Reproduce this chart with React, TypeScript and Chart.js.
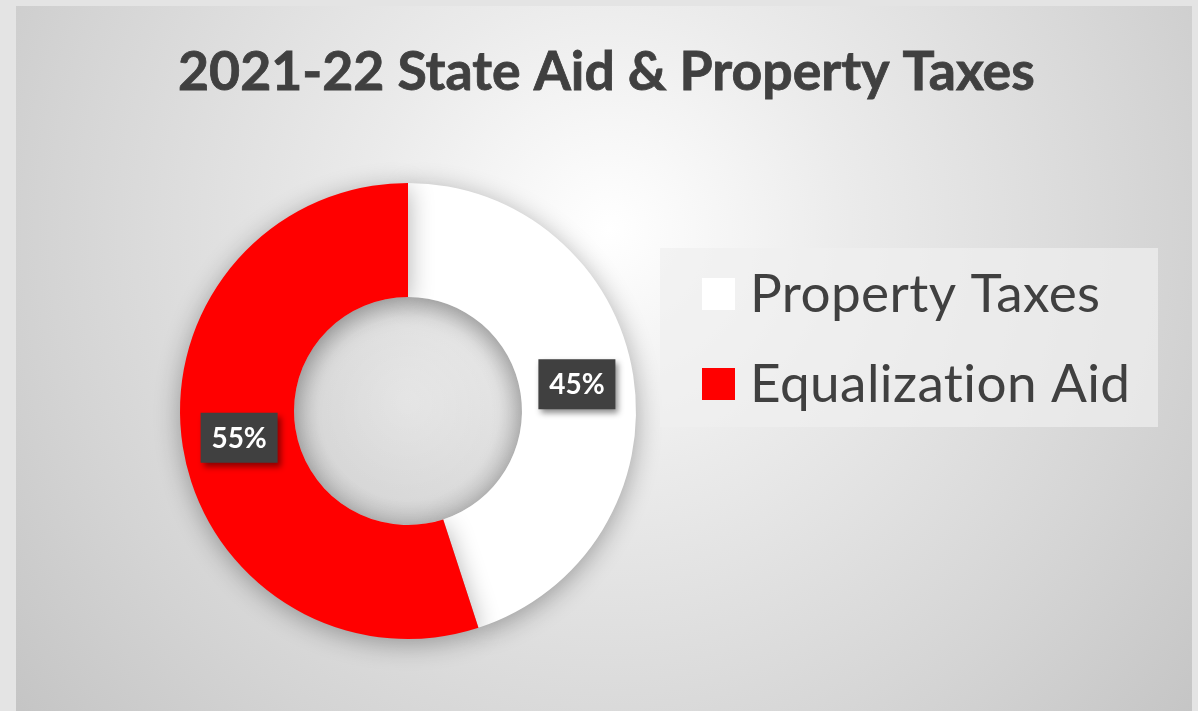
import React, { useEffect, useRef } from "react";
import { Chart, registerables } from "chart.js";

Chart.register(...registerables);

const TITLE = "2021-22 State Aid & Property Taxes";
const categories = ["Property Taxes", "Equalization Aid"];
const shares = [45, 55];
const sliceColors = ["#ffffff", "#ff0000"];

const W = 1198;
const H = 711;

function fitFont(ctx: CanvasRenderingContext2D, text: string, weight: string, family: string, targetWidth: number) {
  ctx.font = `${weight} 100px ${family}`;
  const w = ctx.measureText(text).width;
  return (100 * targetWidth) / w;
}

const backgroundPlugin = {
  id: "bgPanel",
  beforeDraw(chart: any) {
    const ctx = chart.ctx as CanvasRenderingContext2D;
    ctx.save();
    ctx.fillStyle = "#e4e4e4";
    ctx.fillRect(0, 0, W, H);
    const g = ctx.createRadialGradient(610, 230, 0, 610, 230, 800);
    g.addColorStop(0, "#ffffff");
    g.addColorStop(0.3, "#ebebeb");
    g.addColorStop(0.7, "#d4d4d4");
    g.addColorStop(1, "#c2c2c2");
    ctx.fillStyle = g;
    ctx.fillRect(16, 6, 1176, H);
    ctx.restore();
  },
};

const titlePlugin = {
  id: "titleText",
  afterDraw(chart: any) {
    const ctx = chart.ctx as CanvasRenderingContext2D;
    ctx.save();
    const size = fitFont(ctx, TITLE, "bold", "Lato", 857);
    ctx.font = `bold ${size}px Lato`;
    ctx.fillStyle = "#404040";
    ctx.strokeStyle = "#404040";
    ctx.lineWidth = 0.8;
    ctx.textBaseline = "alphabetic";
    ctx.textAlign = "left";
    ctx.fillText(TITLE, 178, 90);
    ctx.strokeText(TITLE, 178, 90);
    ctx.restore();
  },
};

const shadowPlugin = {
  id: "arcShadow",
  beforeDatasetsDraw(chart: any) {
    const ctx = chart.ctx as CanvasRenderingContext2D;
    const arc: any = chart.getDatasetMeta(0).data[0];
    if (arc) {
      // soft shading inside the hole
      ctx.save();
      const r = arc.innerRadius;
      const hg = ctx.createRadialGradient(arc.x, arc.y - 10, 0, arc.x, arc.y, r);
      hg.addColorStop(0, "rgba(0,0,0,0.02)");
      hg.addColorStop(0.8, "rgba(0,0,0,0.05)");
      hg.addColorStop(1, "rgba(0,0,0,0.12)");
      ctx.fillStyle = hg;
      ctx.beginPath();
      ctx.arc(arc.x, arc.y, r, 0, Math.PI * 2);
      ctx.fill();
      ctx.restore();
    }
    ctx.save();
    ctx.shadowColor = "rgba(0,0,0,0.32)";
    ctx.shadowBlur = 26;
    ctx.shadowOffsetX = 0;
    ctx.shadowOffsetY = 5;
  },
  afterDatasetsDraw(chart: any) {
    chart.ctx.restore();
  },
};

const labelPlugin = {
  id: "pctLabels",
  afterDatasetsDraw(chart: any) {
    const ctx = chart.ctx as CanvasRenderingContext2D;
    const meta = chart.getDatasetMeta(0);
    const data = chart.data.datasets[0].data as number[];
    const total = data.reduce((a, b) => a + b, 0);
    meta.data.forEach((arc: any, i: number) => {
      const p = arc.tooltipPosition();
      const text = `${Math.round((data[i] / total) * 100)}%`;
      const bw = 77;
      const bh = 50;
      ctx.save();
      ctx.shadowColor = "rgba(0,0,0,0.45)";
      ctx.shadowBlur = 6;
      ctx.shadowOffsetX = 3;
      ctx.shadowOffsetY = 4;
      ctx.fillStyle = "#404040";
      ctx.fillRect(p.x - bw / 2, p.y - bh / 2, bw, bh);
      ctx.restore();
      ctx.save();
      ctx.font = "bold 28px Lato";
      ctx.fillStyle = "#ffffff";
      ctx.textAlign = "center";
      ctx.textBaseline = "middle";
      ctx.fillText(text, p.x, p.y + 1);
      ctx.restore();
    });
  },
};

const legendPlugin = {
  id: "legendBox",
  afterDraw(chart: any) {
    const ctx = chart.ctx as CanvasRenderingContext2D;
    const labels = chart.data.labels as string[];
    const colors = chart.data.datasets[0].backgroundColor as string[];
    ctx.save();
    ctx.fillStyle = "rgba(240,240,240,0.7)";
    ctx.fillRect(660, 248, 498, 179);
    (ctx as any).letterSpacing = "0.4px";
    const size = fitFont(ctx, labels[0], "normal", "Lato", 348);
    labels.forEach((lab, i) => {
      const cy = 294 + i * 90;
      ctx.fillStyle = colors[i];
      ctx.fillRect(702, cy - 16, 33, 32);
      ctx.font = `normal ${size}px Lato`;
      ctx.fillStyle = "#404040";
      ctx.textAlign = "left";
      ctx.textBaseline = "alphabetic";
      ctx.fillText(lab, 750, cy + 18);
    });
    ctx.restore();
  },
};

export default function App() {
  const ref = useRef<HTMLCanvasElement | null>(null);
  useEffect(() => {
    if (!ref.current) return;
    const chart = new Chart(ref.current, {
      type: "doughnut",
      data: {
        labels: categories,
        datasets: [
          {
            data: shares,
            backgroundColor: sliceColors,
            borderWidth: 0,
          },
        ],
      },
      options: {
        animation: false,
        responsive: false,
        cutout: "50%",
        layout: { padding: { left: 180, top: 183, right: W - 636, bottom: H - 639 } },
        plugins: {
          legend: { display: false },
          tooltip: { enabled: false },
          title: { display: false },
        },
      },
      plugins: [backgroundPlugin, shadowPlugin, labelPlugin, titlePlugin, legendPlugin],
    });
    return () => chart.destroy();
  }, []);
  return (
    <div style={{ position: "fixed", left: 0, top: 0, width: W, height: H }}>
      <canvas ref={ref} width={W} height={H} style={{ width: W, height: H }} />
    </div>
  );
}
